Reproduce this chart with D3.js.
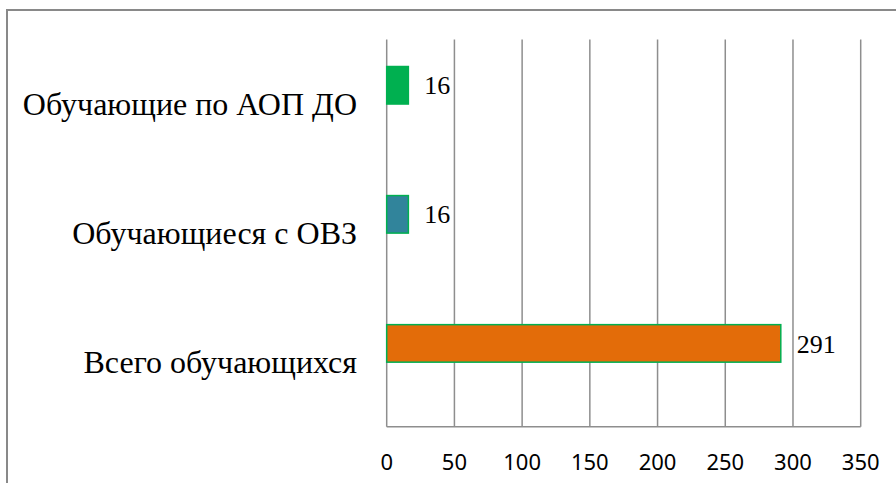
<!DOCTYPE html>
<html><head><meta charset="utf-8">
<script src="https://cdn.jsdelivr.net/npm/d3@7"></script>
<style>html,body{margin:0;padding:0;background:#fff;overflow:hidden}</style>
</head><body>
<script>
const categories = ["Обучающие по АОП ДО", "Обучающиеся с ОВЗ", "Всего обучающихся"];
const values = [16, 16, 291];
const barColors = ["#00B050", "#31849B", "#E36C09"];
const xTicks = [0, 50, 100, 150, 200, 250, 300, 350];

const W = 896, H = 483;
const svg = d3.select("body").append("svg").attr("width", W).attr("height", H);

// outer frame (extends beyond visible area)
svg.append("rect").attr("x", 7).attr("y", 10).attr("width", 1000).attr("height", 600)
  .attr("fill", "none").attr("stroke", "#898989").attr("stroke-width", 2);

const plot = {left: 386.7, right: 860.7, top: 39.5, bottom: 426.7};
const x = d3.scaleLinear().domain([0, 350]).range([plot.left, plot.right]);
const y = d3.scaleBand().domain(categories).range([plot.top, plot.bottom]).padding(0);
const slot = d3.scaleBand().domain(["main", "empty"]).range([0, y.bandwidth()]).paddingInner(0).paddingOuter(0.72);

// gridlines
svg.append("g").selectAll("line").data(xTicks).join("line")
  .attr("x1", d => x(d)).attr("x2", d => x(d))
  .attr("y1", plot.top).attr("y2", plot.bottom)
  .attr("stroke", "#8e8e8e").attr("stroke-width", 1.5);
svg.append("line").attr("x1", plot.left).attr("x2", plot.right)
  .attr("y1", plot.bottom).attr("y2", plot.bottom)
  .attr("stroke", "#8e8e8e").attr("stroke-width", 1.5);

// x tick labels
svg.append("g").selectAll("text").data(xTicks).join("text")
  .attr("x", d => x(d)).attr("y", 469.5)
  .attr("text-anchor", "middle")
  .attr("font-family", "'Noto Sans', 'Open Sans', sans-serif").attr("font-size", 22)
  .attr("fill", "#000").text(d => d);

// bars
svg.append("g").selectAll("rect").data(categories).join("rect")
  .attr("x", x(0))
  .attr("y", d => y(d) + slot("main"))
  .attr("width", (d, i) => x(values[i]) - x(0))
  .attr("height", slot.bandwidth())
  .attr("fill", (d, i) => barColors[i])
  .attr("stroke", "#00B050").attr("stroke-width", 1.5);

// value labels
svg.append("g").selectAll("text").data(categories).join("text")
  .attr("x", (d, i) => x(values[i]) + 16)
  .attr("y", d => y(d) + slot("main") + slot.bandwidth() / 2)
  .attr("dy", "0.35em")
  .attr("font-family", "'Liberation Serif', 'Times New Roman', serif").attr("font-size", 26)
  .attr("fill", "#000").text((d, i) => values[i]);

// category labels
svg.append("g").selectAll("text").data(categories).join("text")
  .attr("x", 357)
  .attr("y", d => y(d) + y.bandwidth() / 2)
  .attr("dy", "0.35em")
  .attr("text-anchor", "end")
  .attr("font-family", "'Liberation Serif', 'Times New Roman', serif").attr("font-size", 32)
  .attr("fill", "#000").text(d => d);
</script>
</body></html>
